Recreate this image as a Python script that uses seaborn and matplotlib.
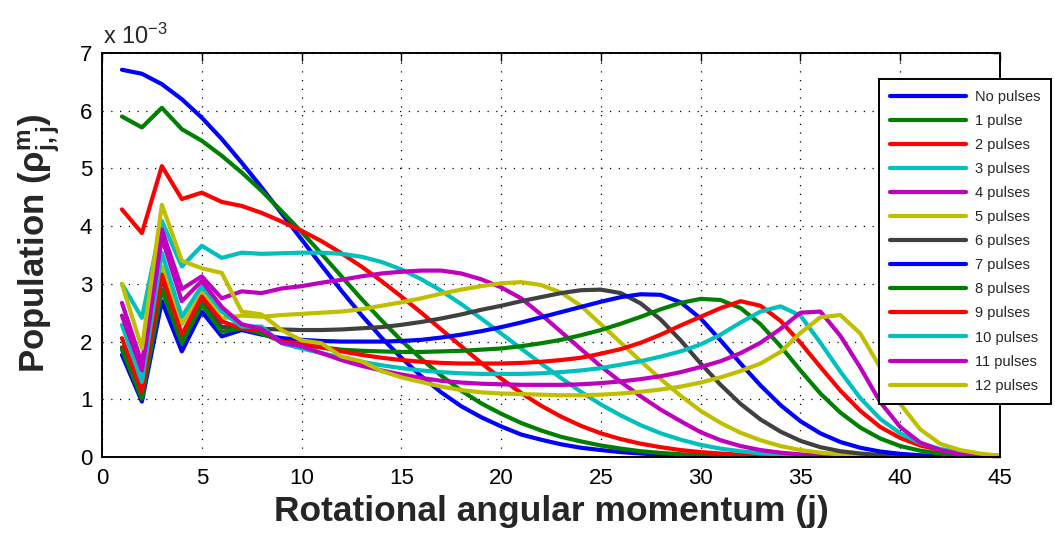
import matplotlib
matplotlib.use("Agg")
import matplotlib.pyplot as plt
import numpy as np
import pandas as pd
import seaborn as sns

# Rotational quantum number j
j_values = list(range(1, 46))

# Population per j, in units of 1e-3
no_pulses = [6.71, 6.64, 6.46, 6.20, 5.88, 5.51, 5.10, 4.67, 4.22, 3.77,
             3.32, 2.88, 2.46, 2.07, 1.72, 1.40, 1.12, 0.88, 0.69, 0.53,
             0.39, 0.30, 0.22, 0.16, 0.12, 0.085, 0.06, 0.04, 0.028, 0.019,
             0.012, 0.008, 0.005, 0.003, 0.002, 0.001, 0, 0, 0, 0, 0, 0, 0, 0, 0]
pulse_1 = [5.90, 5.71, 6.05, 5.68, 5.48, 5.22, 4.93, 4.61, 4.26, 3.90,
           3.52, 3.13, 2.74, 2.37, 2.02, 1.70, 1.41, 1.15, 0.93, 0.75,
           0.59, 0.46, 0.35, 0.27, 0.20, 0.145, 0.10, 0.07, 0.048, 0.032,
           0.021, 0.013, 0.008, 0.005, 0.003, 0.002, 0.001, 0, 0, 0, 0, 0, 0, 0, 0]
pulses_2 = [4.29, 3.88, 5.04, 4.47, 4.58, 4.42, 4.35, 4.23, 4.08, 3.92,
            3.74, 3.53, 3.30, 3.05, 2.78, 2.50, 2.21, 1.92, 1.63, 1.36,
            1.11, 0.89, 0.70, 0.54, 0.41, 0.31, 0.23, 0.17, 0.12, 0.085,
            0.06, 0.04, 0.026, 0.017, 0.011, 0.007, 0.004, 0.002, 0.001, 0, 0, 0, 0, 0, 0]
pulses_3 = [3.00, 2.41, 4.09, 3.30, 3.66, 3.45, 3.54, 3.52, 3.53, 3.54,
            3.54, 3.52, 3.47, 3.38, 3.25, 3.08, 2.88, 2.65, 2.40, 2.14,
            1.88, 1.62, 1.37, 1.13, 0.91, 0.72, 0.55, 0.41, 0.30, 0.21,
            0.145, 0.10, 0.065, 0.042, 0.026, 0.016, 0.01, 0.006, 0.003, 0.002, 0.001, 0, 0, 0, 0]
pulses_4 = [2.67, 1.62, 3.94, 2.91, 3.13, 2.75, 2.87, 2.84, 2.92, 2.96,
            3.02, 3.07, 3.13, 3.18, 3.21, 3.23, 3.23, 3.18, 3.08, 2.94,
            2.75, 2.47, 2.17, 1.87, 1.57, 1.30, 1.05, 0.82, 0.62, 0.43,
            0.29, 0.19, 0.12, 0.075, 0.045, 0.027, 0.016, 0.009, 0.005, 0.003, 0.002, 0.001, 0, 0, 0]
pulses_5 = [1.89, 1.25, 3.30, 2.30, 2.85, 2.40, 2.45, 2.43, 2.46, 2.48,
            2.50, 2.52, 2.56, 2.62, 2.68, 2.75, 2.83, 2.90, 2.96, 3.01,
            3.03, 2.98, 2.85, 2.62, 2.30, 1.98, 1.66, 1.35, 1.06, 0.80,
            0.59, 0.42, 0.29, 0.19, 0.12, 0.075, 0.045, 0.027, 0.016, 0.009, 0.005, 0.003, 0.001, 0, 0]
pulses_6 = [1.90, 1.05, 3.10, 2.10, 2.75, 2.25, 2.25, 2.22, 2.21, 2.20,
            2.20, 2.21, 2.23, 2.25, 2.29, 2.34, 2.40, 2.47, 2.55, 2.62,
            2.70, 2.77, 2.84, 2.89, 2.90, 2.84, 2.66, 2.38, 2.02, 1.62,
            1.25, 0.92, 0.65, 0.44, 0.28, 0.17, 0.10, 0.06, 0.035, 0.02, 0.011, 0.006, 0.003, 0.001, 0]
pulses_7 = [1.77, 0.96, 2.70, 1.83, 2.52, 2.09, 2.20, 2.12, 2.06, 2.03,
            2.01, 2.00, 2.00, 2.00, 2.01, 2.03, 2.07, 2.12, 2.18, 2.25,
            2.33, 2.42, 2.51, 2.60, 2.69, 2.77, 2.82, 2.81, 2.68, 2.40,
            2.02, 1.62, 1.24, 0.90, 0.62, 0.41, 0.26, 0.16, 0.095, 0.055, 0.03, 0.016, 0.008, 0.004, 0.002]
pulses_8 = [1.86, 1.01, 2.90, 1.97, 2.64, 2.17, 2.23, 2.14, 2.00, 1.94,
            1.90, 1.86, 1.84, 1.83, 1.82, 1.82, 1.83, 1.84, 1.86, 1.88,
            1.92, 1.97, 2.03, 2.11, 2.20, 2.31, 2.43, 2.56, 2.67, 2.74,
            2.72, 2.58, 2.30, 1.92, 1.50, 1.10, 0.77, 0.51, 0.32, 0.19, 0.11, 0.06, 0.03, 0.015, 0.007]
pulses_9 = [2.06, 1.13, 3.16, 2.12, 2.78, 2.35, 2.23, 2.20, 2.00, 1.97,
            1.90, 1.83, 1.77, 1.72, 1.68, 1.65, 1.63, 1.62, 1.62, 1.62,
            1.63, 1.65, 1.68, 1.72, 1.79, 1.87, 1.98, 2.12, 2.28, 2.43,
            2.58, 2.70, 2.62, 2.36, 1.98, 1.56, 1.15, 0.80, 0.52, 0.33, 0.20, 0.12, 0.07, 0.035, 0.015]
pulses_10 = [2.29, 1.30, 3.54, 2.43, 2.96, 2.52, 2.26, 2.26, 1.97, 1.88,
             1.80, 1.72, 1.65, 1.59, 1.54, 1.50, 1.47, 1.45, 1.44, 1.44,
             1.44, 1.45, 1.47, 1.50, 1.54, 1.60, 1.66, 1.74, 1.83, 1.95,
             2.12, 2.33, 2.52, 2.61, 2.45, 1.98, 1.48, 1.02, 0.66, 0.41, 0.24, 0.14, 0.08, 0.04, 0.02]
pulses_11 = [2.45, 1.50, 3.80, 2.70, 3.05, 2.60, 2.30, 2.22, 1.98, 1.92,
             1.80, 1.68, 1.58, 1.50, 1.43, 1.37, 1.32, 1.29, 1.27, 1.26,
             1.25, 1.25, 1.25, 1.26, 1.28, 1.31, 1.35, 1.40, 1.47, 1.56,
             1.66, 1.80, 1.98, 2.22, 2.50, 2.52, 2.10, 1.55, 0.95, 0.52, 0.25, 0.12, 0.05, 0.02, 0.01]
pulses_12 = [3.00, 1.88, 4.37, 3.40, 3.27, 3.19, 2.52, 2.47, 2.20, 2.02,
             1.97, 1.74, 1.66, 1.49, 1.38, 1.30, 1.22, 1.16, 1.12, 1.10,
             1.09, 1.08, 1.07, 1.07, 1.08, 1.10, 1.13, 1.17, 1.22, 1.29,
             1.38, 1.49, 1.62, 1.82, 2.15, 2.42, 2.46, 2.14, 1.55, 0.92, 0.48, 0.23, 0.12, 0.06, 0.02]

series_labels = ["No pulses", "1 pulse", "2 pulses", "3 pulses", "4 pulses",
                 "5 pulses", "6 pulses", "7 pulses", "8 pulses", "9 pulses",
                 "10 pulses", "11 pulses", "12 pulses"]
series_values = [no_pulses, pulse_1, pulses_2, pulses_3, pulses_4, pulses_5,
                 pulses_6, pulses_7, pulses_8, pulses_9, pulses_10, pulses_11,
                 pulses_12]

x_ticks = [0, 5, 10, 15, 20, 25, 30, 35, 40, 45]
y_ticks = [0, 1, 2, 3, 4, 5, 6, 7]

# MATLAB-style colour cycle
cycle = [(0, 0, 1), (0, 0.5, 0), (1, 0, 0), (0, 0.75, 0.75),
         (0.75, 0, 0.75), (0.75, 0.75, 0), (0.25, 0.25, 0.25)]
palette = [cycle[i % len(cycle)] for i in range(len(series_labels))]

rows = []
for label, vals in zip(series_labels, series_values):
    for jj, v in zip(j_values, vals):
        rows.append({"j": jj, "population": v, "series": label})
df = pd.DataFrame(rows)

sns.set_style("white")
plt.rcParams["font.family"] = ["Liberation Sans", "DejaVu Sans"]
plt.rcParams["mathtext.fontset"] = "custom"
plt.rcParams["mathtext.rm"] = "Liberation Sans"
plt.rcParams["mathtext.bf"] = "Liberation Sans:bold"
plt.rcParams["mathtext.it"] = "Liberation Sans:italic"

fig = plt.figure(figsize=(10.55, 5.36), dpi=100)
ax = fig.add_axes([102 / 1055, 1 - 457 / 536, (1000 - 102) / 1055, (457 - 53) / 536])

sns.lineplot(data=df, x="j", y="population", hue="series",
             hue_order=series_labels, palette=palette, linewidth=3.0,
             estimator=None, sort=False, ax=ax)

ax.set_xlim(0, 45)
ax.set_ylim(0, 7)
ax.set_xticks(x_ticks)
ax.set_yticks(y_ticks)
ax.set_xticklabels([str(t) for t in x_ticks])
ax.set_yticklabels([str(t) for t in y_ticks])
ax.tick_params(direction="in", top=True, right=True, length=6, width=1.0,
               labelsize=16, colors="black")
ax.tick_params(axis="x", pad=8)
ax.tick_params(axis="y", pad=7)
ax.grid(True, color="black", linestyle=(0, (1, 6)), linewidth=0.9)
for sp in ax.spines.values():
    sp.set_visible(True)
    sp.set_color("black")
    sp.set_linewidth(1.4)

ax.set_xlabel("Rotational angular momentum (j)", fontsize=25.5,
              fontweight="bold", labelpad=4)
ax.set_ylabel(r"Population (ρ$^{\mathbf{m}}_{\mathbf{j,j}}$)", fontsize=25,
              fontweight="bold")
ax.yaxis.set_label_coords(-0.045, 0.53)

fig.text(103 / 1055, 1 - 44 / 536, r"x 10$^{-3}$", fontsize=17,
         ha="left", va="baseline")

handles, labels = ax.get_legend_handles_labels()
leg = ax.legend(handles, labels, loc="upper left",
                bbox_to_anchor=(879 / 1055, 1 - 79 / 536),
                bbox_transform=fig.transFigure, borderaxespad=0,
                fontsize=10.5, handlelength=5.2, handletextpad=0.6,
                labelspacing=0.69, borderpad=0.75, fancybox=False,
                framealpha=1, edgecolor="black")
leg.get_frame().set_linewidth(1.4)
for ln in leg.get_lines():
    ln.set_linewidth(3.0)

fig.savefig("out.png", dpi=100)
